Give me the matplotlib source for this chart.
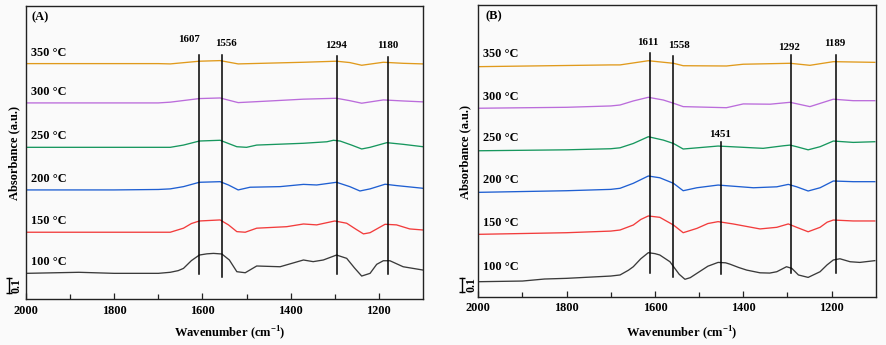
import matplotlib
matplotlib.use("Agg")
import matplotlib.pyplot as plt
import matplotlib.transforms as mtransforms

plt.rcParams['font.family'] = ['Liberation Serif', 'DejaVu Serif']
plt.rcParams['font.weight'] = 'bold'
plt.rcParams['mathtext.fontset'] = 'custom'
plt.rcParams['mathtext.rm'] = 'Liberation Serif:bold'
plt.rcParams['mathtext.bf'] = 'Liberation Serif:bold'

temps = ["100 °C", "150 °C", "200 °C", "250 °C", "300 °C", "350 °C"]
colors = ["#3a3a3a", "#f23c3c", "#1f5fd2", "#17975e", "#bb6cdb", "#e09a1c"]

# panel A spectra (wavenumber, absorbance relative to own baseline)
a100_wn = [2000, 1880, 1800, 1700, 1673, 1655, 1643, 1625, 1607, 1590, 1575, 1556, 1539, 1522,
           1503, 1477, 1424, 1371, 1349, 1326, 1296, 1273, 1255, 1239, 1220, 1205, 1190, 1175,
           1145, 1100]
a100_ab = [0, .007, 0, 0, .007, .018, .033, .085, .122, .130, .133, .129, .089, .011,
           .004, .049, .044, .089, .078, .089, .122, .100, .035, -.018, 0, .06, .084, .084,
           .044, .022]
a150_wn = [2000, 1800, 1700, 1673, 1643, 1625, 1607, 1560, 1541, 1522, 1503, 1477, 1409, 1371,
           1341, 1300, 1273, 1252, 1235, 1220, 1186, 1160, 1130, 1100]
a150_ab = [0, 0, 0, 0, .027, .058, .075, .082, .049, .004, 0, .027, .037, .055,
           .049, .075, .060, .02, -.011, -.003, .053, .049, .022, .015]
a200_wn = [2000, 1800, 1700, 1673, 1643, 1607, 1560, 1541, 1519, 1492, 1424, 1371, 1341, 1296,
           1266, 1243, 1220, 1186, 1160, 1100]
a200_ab = [0, 0, .003, .007, .022, .051, .055, .033, 0, .018, .022, .037, .033, .051,
           .022, -.007, .007, .038, .029, .011]
a250_wn = [2000, 1800, 1700, 1673, 1643, 1607, 1560, 1522, 1500, 1477, 1371, 1318, 1303, 1288,
           1262, 1239, 1220, 1182, 1145, 1100]
a250_ab = [0, 0, 0, 0, .015, .042, .047, .004, 0, .015, .027, .037, .047, .042,
           .015, -.011, 0, .031, .02, .004]
a300_wn = [2000, 1800, 1700, 1673, 1607, 1560, 1519, 1447, 1371, 1296, 1266, 1239, 1190, 1145, 1100]
a300_ab = [0, 0, 0, .005, .029, .033, .002, .013, .025, .031, .015, -.002, .02, .013, .007]
a350_wn = [2000, 1800, 1700, 1673, 1607, 1560, 1519, 1371, 1296, 1266, 1239, 1190, 1145, 1100]
a350_ab = [0, 0, 0, -.002, .016, .02, -.002, .009, .016, .007, -.011, .009, .002, -.002]

# panel B spectra
b100_wn = [2000, 1900, 1850, 1800, 1700, 1679, 1660, 1649, 1632, 1615, 1600, 1589, 1566, 1555,
           1545, 1532, 1520, 1505, 1480, 1457, 1440, 1430, 1410, 1392, 1362, 1340, 1324, 1302,
           1290, 1275, 1253, 1226, 1210, 1196, 1181, 1158, 1136, 1102]
b100_ab = [0, .005, .02, .025, .042, .050, .085, .111, .17, .215, .208, .198, .148, .099,
           .055, .018, .03, .062, .115, .143, .14, .130, .105, .086, .066, .064, .074, .111,
           .099, .050, .032, .074, .125, .161, .170, .148, .143, .156]
b150_wn = [2000, 1800, 1700, 1679, 1649, 1632, 1615, 1589, 1558, 1536, 1505, 1480, 1457, 1423,
           1362, 1324, 1298, 1279, 1253, 1226, 1210, 1196, 1151, 1102]
b150_ab = [0, .012, .024, .032, .069, .11, .136, .126, .069, .012, .044, .08, .094, .077,
           .040, .052, .077, .052, .019, .052, .09, .106, .099, .099]
b200_wn = [2000, 1800, 1700, 1679, 1649, 1615, 1589, 1558, 1536, 1505, 1457, 1377, 1324, 1298,
           1279, 1253, 1226, 1196, 1151, 1102]
b200_ab = [0, .012, .022, .030, .067, .121, .108, .067, .012, .034, .054, .034, .041, .059,
           .041, .010, .034, .084, .079, .079]
b250_wn = [2000, 1800, 1700, 1679, 1649, 1615, 1581, 1558, 1536, 1457, 1355, 1309, 1294, 1279,
           1253, 1226, 1196, 1151, 1102]
b250_ab = [0, .007, .015, .022, .054, .104, .079, .054, .013, .035, .018, .037, .042, .030,
           .007, .030, .072, .062, .067]
b300_wn = [2000, 1800, 1700, 1679, 1649, 1615, 1581, 1558, 1536, 1438, 1400, 1339, 1294, 1249,
           1196, 1151, 1102]
b300_ab = [0, .007, .017, .024, .054, .081, .061, .037, .012, .004, .032, .030, .044, .012,
           .067, .056, .056]
b350_wn = [2000, 1700, 1679, 1615, 1558, 1536, 1438, 1400, 1294, 1249, 1196, 1102]
b350_ab = [0, .013, .013, .044, .025, .007, .005, .018, .025, .010, .037, .032]

peaks_a = [1607, 1556, 1294, 1180]
peaks_b = [1611, 1558, 1451, 1292, 1189]

BG = "#fafafa"
fig = plt.figure(figsize=(8.87, 3.45), dpi=100, facecolor=BG)


def setup(ax, ylim):
    ax.set_facecolor(BG)
    ax.set_xlim(2000, 1100)
    ax.set_ylim(0, ylim)
    ax.set_xticks([2000, 1800, 1600, 1400, 1200])
    ax.set_xticks(range(1900, 1100, -200), minor=True)
    ax.set_yticks([])
    ax.tick_params(axis='x', which='both', direction='in', labelsize=8.8, pad=4,
                   top=False, color='#222222')
    ax.tick_params(axis='x', which='major', length=4, width=0.9)
    ax.tick_params(axis='x', which='minor', length=3.5, width=0.9)
    for lab in ax.get_xticklabels():
        lab.set_fontweight('bold')
    for s in ax.spines.values():
        s.set_linewidth(1.0)
        s.set_color('#222222')


def scale_bar(ax, xb, xt, y0):
    tr = mtransforms.blended_transform_factory(ax.transAxes, ax.transData)
    ax.plot([xb, xb], [y0, y0 + 0.1], color='black', lw=1.0, transform=tr, clip_on=False)
    ax.plot([xb, xb], [y0, y0 + 0.1], color='black', lw=0, marker='_', ms=4.5, mew=1.0,
            transform=tr, clip_on=False)
    ax.text(xt, y0 + 0.05, "0.1", rotation=90, ha='center', va='center', fontsize=8.6,
            fontweight='bold', transform=tr)


# ---- panel A ----
axA = fig.add_axes([26 / 887, 1 - 299 / 345, 397 / 887, 293 / 345])
setup(axA, 1.953)
offs_a = [0.171, 0.445, 0.727, 1.011, 1.307, 1.569]
series_a = [(a100_wn, a100_ab), (a150_wn, a150_ab), (a200_wn, a200_ab),
            (a250_wn, a250_ab), (a300_wn, a300_ab), (a350_wn, a350_ab)]
for (wn, ab), off, c, t in zip(series_a, offs_a, colors, temps):
    axA.plot(wn, [v + off for v in ab], color=c, lw=0.95)
    axA.text(1989, off + 0.073, t, ha='left', va='center', fontsize=8.8, fontweight='bold')

lo_a = [0.167, 0.147, 0.167, 0.167]
hi_a = [1.627, 1.627, 1.620, 1.613]
lab_a = [(1630, 1.727), (1547, 1.70), (1297, 1.693), (1179, 1.693)]
for p, lo, hi, (lx, ly) in zip(peaks_a, lo_a, hi_a, lab_a):
    axA.plot([p, p], [lo, hi], color='black', lw=1.1)
    axA.text(lx, ly, str(p), ha='center', va='center', fontsize=7.8, fontweight='bold')

axA.text(0.015, 0.96, "(A)", transform=axA.transAxes, ha='left', va='center',
         fontsize=9, fontweight='bold')
scale_bar(axA, -0.043, -0.023, 0.04)
fig.text(230 / 887, 1 - 333 / 345, "Wavenumber (cm$^{-1}$)", ha='center', va='center',
         fontsize=9, fontweight='bold')
fig.text(14 / 887, 1 - 153 / 345, "Absorbance (a.u.)", rotation=90, ha='center', va='center',
         fontsize=9, fontweight='bold')

# ---- panel B ----
axB = fig.add_axes([478.3 / 887, 1 - 296.7 / 345, 397.4 / 887, 292 / 345])
setup(axB, 2.163)
offs_b = [0.111, 0.462, 0.773, 1.081, 1.396, 1.704]
series_b = [(b100_wn, b100_ab), (b150_wn, b150_ab), (b200_wn, b200_ab),
            (b250_wn, b250_ab), (b300_wn, b300_ab), (b350_wn, b350_ab)]
lab_dy_b = [0.11, 0.086, 0.091, 0.096, 0.086, 0.092]
for (wn, ab), off, c, t, dy in zip(series_b, offs_b, colors, temps, lab_dy_b):
    axB.plot(wn, [v + off for v in ab], color=c, lw=0.95)
    axB.text(1989, off + dy, t, ha='left', va='center', fontsize=8.8, fontweight='bold')

lo_b = [0.178, 0.144, 0.168, 0.173, 0.178]
hi_b = [1.803, 1.783, 1.144, 1.790, 1.790]
lab_b = [(1616, 1.881), (1545, 1.859), (1453, 1.205), (1296, 1.844), (1192, 1.877)]
for p, lo, hi, (lx, ly) in zip(peaks_b, lo_b, hi_b, lab_b):
    axB.plot([p, p], [lo, hi], color='black', lw=1.1)
    axB.text(lx, ly, str(p), ha='center', va='center', fontsize=7.8, fontweight='bold')

axB.text(0.017, 0.96, "(B)", transform=axB.transAxes, ha='left', va='center',
         fontsize=9, fontweight='bold')
scale_bar(axB, -0.042, -0.017, 0.037)
fig.text(682 / 887, 1 - 333 / 345, "Wavenumber (cm$^{-1}$)", ha='center', va='center',
         fontsize=9, fontweight='bold')
fig.text(465.7 / 887, 1 - 151.7 / 345, "Absorbance (a.u.)", rotation=90, ha='center',
         va='center', fontsize=9, fontweight='bold')

fig.savefig("out.png", dpi=100, facecolor=BG)
